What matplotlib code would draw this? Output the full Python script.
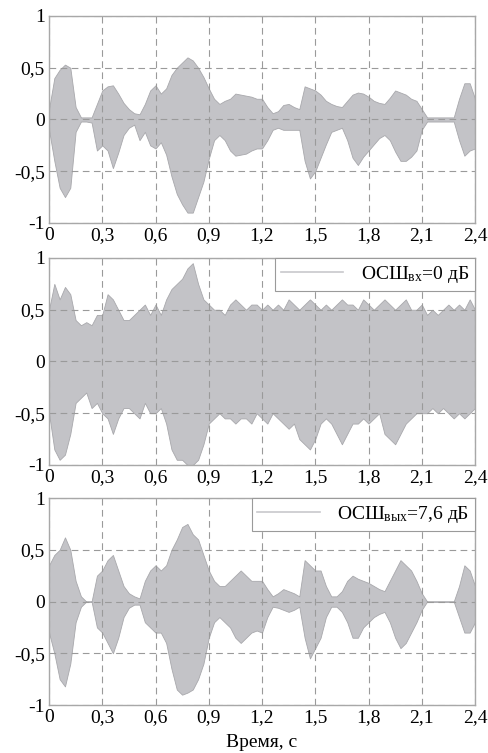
import numpy as np
import matplotlib
matplotlib.use('Agg')
import matplotlib.pyplot as plt

plt.rcParams['font.family'] = ['Liberation Serif', 'DejaVu Serif']
plt.rcParams['mathtext.fontset'] = 'custom'
plt.rcParams['mathtext.rm'] = 'Liberation Serif'
plt.rcParams['mathtext.it'] = 'Liberation Serif:italic'
plt.rcParams['font.size'] = 14

# время, с (шаг 0,03 с)
t = np.round(np.arange(0, 2.4001, 0.03), 2)

# огибающие чистого сигнала
clean_up = [0.10, 0.40, 0.48, 0.53, 0.50, 0.12, 0.02, 0.02, 0.02, 0.15,
            0.28, 0.32, 0.33, 0.25, 0.16, 0.10, 0.06, 0.05, 0.15, 0.28,
            0.33, 0.25, 0.30, 0.43, 0.50, 0.55, 0.60, 0.57, 0.50, 0.41,
            0.30, 0.20, 0.15, 0.18, 0.20, 0.25, 0.24, 0.23, 0.22, 0.20,
            0.20, 0.12, 0.06, 0.08, 0.14, 0.15, 0.12, 0.10, 0.32, 0.30,
            0.28, 0.24, 0.18, 0.15, 0.13, 0.12, 0.18, 0.24, 0.26, 0.25,
            0.22, 0.18, 0.16, 0.15, 0.21, 0.28, 0.26, 0.24, 0.20, 0.18,
            0.10, 0.02, 0.02, 0.02, 0.02, 0.02, 0.02, 0.20, 0.35, 0.35,
            0.20]
clean_lo = [-0.10, -0.40, -0.66, -0.75, -0.66, -0.12, -0.02, -0.02, -0.03, -0.30,
            -0.25, -0.30, -0.47, -0.32, -0.15, -0.08, -0.05, -0.20, -0.12, -0.25,
            -0.28, -0.22, -0.34, -0.55, -0.72, -0.82, -0.90, -0.90, -0.75, -0.60,
            -0.38, -0.20, -0.15, -0.20, -0.30, -0.35, -0.34, -0.33, -0.30, -0.28,
            -0.28, -0.20, -0.10, -0.08, -0.10, -0.10, -0.10, -0.10, -0.40, -0.57,
            -0.50, -0.37, -0.24, -0.12, -0.10, -0.08, -0.20, -0.37, -0.44, -0.36,
            -0.30, -0.24, -0.18, -0.15, -0.20, -0.31, -0.40, -0.40, -0.36, -0.30,
            -0.10, -0.02, -0.02, -0.02, -0.02, -0.02, -0.02, -0.20, -0.35, -0.30,
            -0.28]

# огибающие зашумлённого сигнала (ОСШ_вх = 0 дБ)
noisy_up = [0.50, 0.75, 0.60, 0.72, 0.65, 0.40, 0.35, 0.38, 0.35, 0.45,
            0.45, 0.65, 0.60, 0.50, 0.40, 0.40, 0.45, 0.50, 0.55, 0.45,
            0.55, 0.45, 0.60, 0.70, 0.75, 0.80, 0.90, 0.95, 0.75, 0.60,
            0.55, 0.50, 0.50, 0.45, 0.55, 0.60, 0.55, 0.50, 0.55, 0.55,
            0.50, 0.55, 0.50, 0.55, 0.50, 0.60, 0.55, 0.50, 0.55, 0.60,
            0.55, 0.50, 0.55, 0.50, 0.55, 0.60, 0.55, 0.55, 0.50, 0.60,
            0.55, 0.50, 0.55, 0.60, 0.55, 0.50, 0.55, 0.60, 0.50, 0.50,
            0.55, 0.45, 0.50, 0.45, 0.50, 0.55, 0.50, 0.55, 0.50, 0.60,
            0.50]
noisy_lo = [-0.50, -0.85, -0.95, -0.90, -0.70, -0.40, -0.35, -0.30, -0.45, -0.40,
            -0.50, -0.55, -0.70, -0.55, -0.45, -0.45, -0.50, -0.55, -0.40, -0.50,
            -0.50, -0.45, -0.60, -0.85, -0.95, -0.95, -1.00, -1.00, -0.95, -0.80,
            -0.60, -0.55, -0.50, -0.55, -0.55, -0.60, -0.55, -0.55, -0.60, -0.50,
            -0.55, -0.60, -0.50, -0.55, -0.60, -0.65, -0.60, -0.75, -0.80, -0.85,
            -0.75, -0.60, -0.55, -0.60, -0.70, -0.80, -0.70, -0.60, -0.60, -0.55,
            -0.60, -0.55, -0.50, -0.70, -0.75, -0.80, -0.70, -0.60, -0.55, -0.50,
            -0.50, -0.50, -0.45, -0.50, -0.45, -0.50, -0.55, -0.50, -0.55, -0.50,
            -0.45]

# огибающие обработанного сигнала (ОСШ_вых = 7,6 дБ)
out_up = [0.35, 0.45, 0.50, 0.62, 0.50, 0.20, 0.05, 0.00, 0.00, 0.25,
          0.30, 0.40, 0.45, 0.30, 0.15, 0.08, 0.05, 0.03, 0.20, 0.30,
          0.35, 0.30, 0.35, 0.50, 0.60, 0.72, 0.75, 0.65, 0.60, 0.45,
          0.30, 0.20, 0.15, 0.15, 0.20, 0.25, 0.30, 0.25, 0.20, 0.20,
          0.20, 0.12, 0.05, 0.08, 0.12, 0.10, 0.08, 0.05, 0.40, 0.35,
          0.30, 0.30, 0.15, 0.05, 0.05, 0.10, 0.20, 0.25, 0.22, 0.20,
          0.18, 0.15, 0.12, 0.10, 0.20, 0.30, 0.40, 0.35, 0.30, 0.20,
          0.08, 0.00, 0.00, 0.00, 0.00, 0.00, 0.00, 0.15, 0.35, 0.30,
          0.15]
out_lo = [-0.30, -0.50, -0.75, -0.82, -0.60, -0.20, -0.05, 0.00, 0.00, -0.25,
          -0.30, -0.40, -0.50, -0.35, -0.15, -0.06, -0.03, -0.03, -0.20, -0.25,
          -0.30, -0.30, -0.40, -0.65, -0.85, -0.90, -0.88, -0.85, -0.75, -0.60,
          -0.35, -0.20, -0.15, -0.20, -0.25, -0.35, -0.40, -0.35, -0.30, -0.28,
          -0.30, -0.15, -0.05, -0.06, -0.08, -0.10, -0.08, -0.05, -0.35, -0.55,
          -0.45, -0.35, -0.15, -0.05, -0.05, -0.10, -0.20, -0.35, -0.35, -0.25,
          -0.20, -0.15, -0.12, -0.10, -0.20, -0.35, -0.45, -0.40, -0.30, -0.20,
          -0.08, 0.00, 0.00, 0.00, 0.00, 0.00, 0.00, -0.15, -0.30, -0.30,
          -0.20]

xticks = [0, 0.3, 0.6, 0.9, 1.2, 1.5, 1.8, 2.1, 2.4]
yticks = [-1, -0.5, 0, 0.5, 1]
labels = [None, r'ОСШ$_{\mathrm{вх}}$=0 дБ', r'ОСШ$_{\mathrm{вых}}$=7,6 дБ']

fill_c = '#c3c3c7'
grid_c = '#9a9a9a'

fig = plt.figure(figsize=(4.88, 7.53), dpi=100)
boxes = [[0.1004, 0.7039, 0.873, 0.2749],
         [0.1004, 0.3825, 0.873, 0.2749],
         [0.1004, 0.0637, 0.873, 0.2749]]
series = [(clean_up, clean_lo), (noisy_up, noisy_lo), (out_up, out_lo)]

for box, (up, lo), lab in zip(boxes, series, labels):
    ax = fig.add_axes(box)
    ax.fill_between(t, lo, up, color=fill_c, lw=0.6, edgecolor='#a8a8ac')
    if lab:
        ax.plot([], [], color='#c8c8cc', lw=1.2, label=lab)
        leg = ax.legend(loc='upper right', fontsize=14, borderaxespad=0,
                        fancybox=False, framealpha=1, handlelength=3.2,
                        borderpad=0.3, handletextpad=0.9)
        leg.get_frame().set_edgecolor(grid_c)
        leg.get_frame().set_linewidth(0.8)
    ax.set_xlim(0, 2.4)
    ax.set_ylim(-1, 1)
    ax.set_xticks(xticks)
    ax.set_yticks(yticks)
    ax.set_xticklabels([('%g' % v).replace('.', ',') for v in xticks])
    ax.set_yticklabels([('%g' % v).replace('.', ',') for v in yticks])
    ax.grid(True, ls=(0, (6, 4)), color=grid_c, lw=0.8)
    ax.tick_params(length=0, pad=3, labelsize=14)
    for s in ax.spines.values():
        s.set_color('#a8a8a8')
        s.set_linewidth(1.0)

fig.text(0.537, 0.003, 'Время, с', ha='center', va='bottom', fontsize=14)
fig.savefig('out.png', dpi=100)
